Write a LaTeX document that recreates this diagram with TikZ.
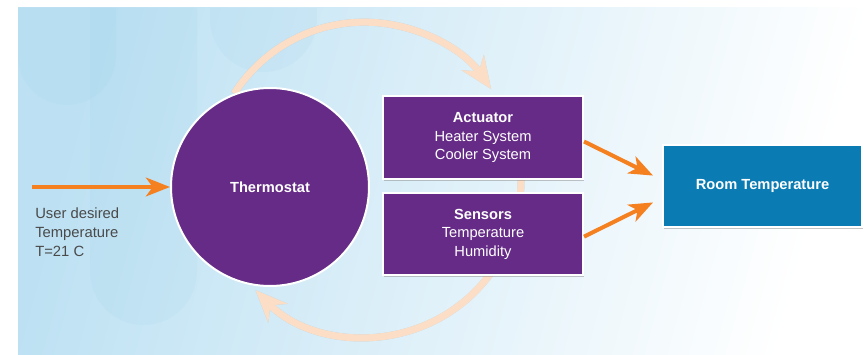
\documentclass[tikz,border=0pt]{standalone}
\usepackage{fontspec}
\setmainfont{Liberation Sans}
\usetikzlibrary{arrows.meta,shadows}
\definecolor{purp}{RGB}{101,43,134}
\definecolor{roomblue}{RGB}{10,124,179}
\definecolor{orng}{RGB}{245,128,32}
\definecolor{peach}{RGB}{252,222,198}
\definecolor{bgblue}{RGB}{189,225,243}
\definecolor{bgmid}{RGB}{214,236,248}
\definecolor{txtgray}{RGB}{74,74,74}
\definecolor{decoblue}{RGB}{160,210,236}
\definecolor{shadowc}{RGB}{150,165,175}
\pgfdeclarelayer{back}
\pgfdeclarelayer{mid}
\pgfsetlayers{back,mid,main}
\begin{document}
\begin{tikzpicture}[x=0.75pt,y=0.75pt,
  txt/.style={font=\fontsize{11}{13.9}\selectfont},
  box/.style={draw=white, line width=1.5pt, fill=purp, text=white,
    minimum width=150pt, minimum height=62pt, inner sep=0pt, align=center, txt,
    drop shadow={shadow xshift=1pt,shadow yshift=-1.5pt,opacity=0.45}},
  thermostyle/.style={circle, draw=white, line width=1.5pt, fill=purp, text=white,
    minimum size=148.5pt, inner sep=0pt, font=\fontsize{11}{13}\selectfont\bfseries},
  loopline/.style={draw=peach, line width=5.25pt},
  looptip/.style={-{Stealth[length=24pt,width=20pt,inset=8pt]}},
  feed/.style={draw=orng, line width=3pt, -{Stealth[length=18pt,width=14pt,inset=5pt]}}
]
\path[use as bounding box] (0,0) rectangle (865,354);

% nodes
\node[thermostyle] (thermo) at (270,167) {Thermostat};
\node[box, minimum height=62.25pt] (act) at (483,216.5)
  {\textbf{Actuator}\\Heater System\\Cooler System};
\node[box, minimum height=61.5pt] (sens) at (483,120)
  {\textbf{Sensors}\\Temperature\\Humidity};
\node[box, fill=roomblue, minimum width=149.25pt, minimum height=61.5pt] (room) at (762.5,168)
  {\textbf{Room Temperature}};
\node[anchor=west, align=left, text=txtgray, inner sep=0pt,
  font=\fontsize{11.1}{14.25}\selectfont] (user) at (35,122)
  {User desired\\Temperature\\T=21 C};
\coordinate (in) at (32,167);
\coordinate (lc) at (366,174);
\path (lc) ++(30:155 and 157) coordinate (ls);

% background
\begin{pgfonlayer}{back}
  \fill[white] (0,0) rectangle (865,354);
  \shade[left color=bgblue, middle color=bgmid, right color=white, shading angle=75]
    (18,0) rectangle (865,346);
  \fill[decoblue, opacity=0.18] (18,346) -- (18,298) arc[start angle=180,end angle=360,radius=49] -- (116,346) -- cycle;
  \fill[decoblue, opacity=0.14] (90,346) -- (90,82.5) arc[start angle=180,end angle=360,radius=53.5] -- (197,346) -- cycle;
  \fill[decoblue, opacity=0.14] (210,346) -- (210,335.5) arc[start angle=180,end angle=360,radius=53.5] -- (317,346) -- cycle;
\end{pgfonlayer}

% feedback loop
\begin{pgfonlayer}{mid}
  \begin{scope}[shift={(1.2,-2)}]
    \draw[line width=5.25pt, draw=shadowc, opacity=0.4, looptip]
      (thermo.111) arc[start angle=147, end angle=35, x radius=155, y radius=157];
    \draw[line width=5.25pt, draw=shadowc, opacity=0.4, looptip]
      (ls) arc[start angle=30, end angle=-135.5, x radius=155, y radius=157];
  \end{scope}
  \draw[loopline, looptip]
    (thermo.111) arc[start angle=147, end angle=35, x radius=155, y radius=157];
  \draw[loopline, looptip]
    (ls) arc[start angle=30, end angle=-135.5, x radius=155, y radius=157];
\end{pgfonlayer}

% orange arrows
\draw[feed] (in) -- (thermo);
\draw[feed, shorten >=7.5pt] ([yshift=-3pt]act.east) -- ([yshift=4.5pt]room.west);
\draw[feed, shorten >=7.5pt] ([yshift=-2pt]sens.east) -- ([yshift=-9pt]room.west);
\end{tikzpicture}
\end{document}
